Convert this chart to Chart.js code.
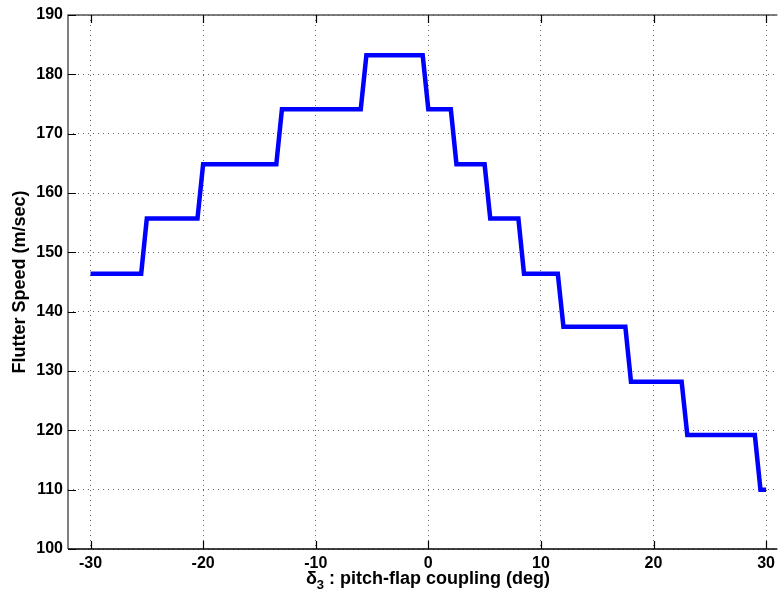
<!DOCTYPE html>
<html>
<head>
<meta charset="utf-8">
<script src="https://cdn.jsdelivr.net/npm/chart.js@4.4.0/dist/chart.umd.min.js"></script>
<style>
  html, body { margin: 0; padding: 0; background: #fff; }
  #wrap { width: 780px; height: 598px; position: relative; }
</style>
</head>
<body>
<div id="wrap"><canvas id="flutterChart"></canvas></div>
<script>
// pitch-flap coupling (deg) and flutter speed (m/s)
const couplingDeg = [-30, -25.5, -25, -20.5, -20, -13.5, -13, -6, -5.5, -0.5, 0, 2, 2.5,
                     5, 5.5, 8, 8.5, 11.5, 12, 17.5, 18, 22.5, 23, 29, 29.5, 30];
const flutterSpeed = [146.4, 146.4, 155.7, 155.7, 164.85, 164.85, 174.1, 174.1, 183.2, 183.2,
                      174.1, 174.1, 164.85, 164.85, 155.7, 155.7, 146.4, 146.4, 137.45, 137.45,
                      128.2, 128.2, 119.2, 119.2, 110, 110];
const xTickValues = [-30, -20, -10, 0, 10, 20, 30];
const yTickValues = [100, 110, 120, 130, 140, 150, 160, 170, 180, 190];

const FONT = "'Liberation Sans', Arial, Helvetica, sans-serif";

// box, inward tick marks and axis titles (MATLAB style)
const framePlugin = {
    id: "frame",
    afterDraw(chart) {
        const { ctx, chartArea: a, scales } = chart;
        const xs = scales.x, ys = scales.y;
        ctx.save();

        // box
        ctx.lineWidth = 1.5;
        ctx.strokeStyle = "#555";
        ctx.beginPath();
        ctx.moveTo(a.left, a.bottom);
        ctx.lineTo(a.left, a.top);
        ctx.lineTo(a.right, a.top);
        ctx.stroke();
        ctx.strokeStyle = "#000";
        ctx.beginPath();
        ctx.moveTo(a.left, a.bottom);
        ctx.lineTo(a.right, a.bottom);
        ctx.stroke();

        // ticks
        ctx.lineWidth = 1.2;
        ctx.strokeStyle = "#000";
        ctx.beginPath();
        xTickValues.forEach(v => {
            const px = Math.round(xs.getPixelForValue(v)) + 0.5;
            ctx.moveTo(px, a.bottom);
            ctx.lineTo(px, a.bottom - 8);
            ctx.moveTo(px, a.top);
            ctx.lineTo(px, a.top + 8);
        });
        yTickValues.forEach(v => {
            const py = Math.round(ys.getPixelForValue(v)) + 0.5;
            ctx.moveTo(a.left, py);
            ctx.lineTo(a.left + 8, py);
        });
        ctx.stroke();

        // y title
        ctx.fillStyle = "#000";
        ctx.font = "bold 18px " + FONT;
        ctx.textAlign = "center";
        ctx.textBaseline = "middle";
        ctx.save();
        ctx.translate(20, (a.top + a.bottom) / 2);
        ctx.rotate(-Math.PI / 2);
        ctx.fillText("Flutter Speed (m/sec)", 0, 0);
        ctx.restore();

        // x title with subscript
        ctx.textAlign = "left";
        ctx.textBaseline = "alphabetic";
        const big = "bold 18px " + FONT, small = "bold 13px " + FONT;
        const rest = " : pitch-flap coupling (deg)";
        ctx.font = big;
        const wd = ctx.measureText("\u03b4").width;
        const wr = ctx.measureText(rest).width;
        ctx.font = small;
        const ws = ctx.measureText("3").width;
        let x0 = 428 - (wd + ws + wr) / 2;
        const base = 584;
        ctx.font = big;
        ctx.fillText("\u03b4", x0, base);
        ctx.font = small;
        ctx.fillText("3", x0 + wd, base + 5);
        ctx.font = big;
        ctx.fillText(rest, x0 + wd + ws, base);

        ctx.restore();
    }
};

const ctx = document.getElementById("flutterChart").getContext("2d");

new Chart(ctx, {
    type: "line",
    data: {
        datasets: [
            {
                data: couplingDeg.map((x, i) => ({ x: x, y: flutterSpeed[i] })),
                borderColor: "#0000ff",
                borderWidth: 4.5,
                pointRadius: 0,
                tension: 0,
                fill: false,
                borderJoinStyle: "miter",
            },
        ],
    },
    options: {
        responsive: true,
        maintainAspectRatio: false,
        animation: false,
        layout: { padding: { top: 15, right: 0, bottom: 0, left: 0 } },
        plugins: { legend: { display: false }, tooltip: { enabled: false } },
        scales: {
            x: {
                type: "linear",
                min: -32,
                max: 31,
                afterBuildTicks: s => { s.ticks = xTickValues.map(v => ({ value: v })); },
                afterFit: s => { s.height = 49; },
                ticks: {
                    color: "#000",
                    font: { family: FONT, size: 16, weight: "bold" },
                    padding: 5,
                    maxRotation: 0,
                },
                grid: { color: "rgba(0,0,0,0.6)", lineWidth: 1, drawTicks: false },
                border: { display: false, dash: [1, 4] },
            },
            y: {
                min: 100,
                max: 190,
                afterBuildTicks: s => { s.ticks = yTickValues.map(v => ({ value: v })); },
                afterFit: s => { s.width = 68; },
                ticks: {
                    color: "#000",
                    font: { family: FONT, size: 16, weight: "bold" },
                    padding: 5,
                },
                grid: { color: "rgba(0,0,0,0.6)", lineWidth: 1, drawTicks: false },
                border: { display: false, dash: [1, 4] },
            },
        },
    },
    plugins: [framePlugin],
});
</script>
</body>
</html>
